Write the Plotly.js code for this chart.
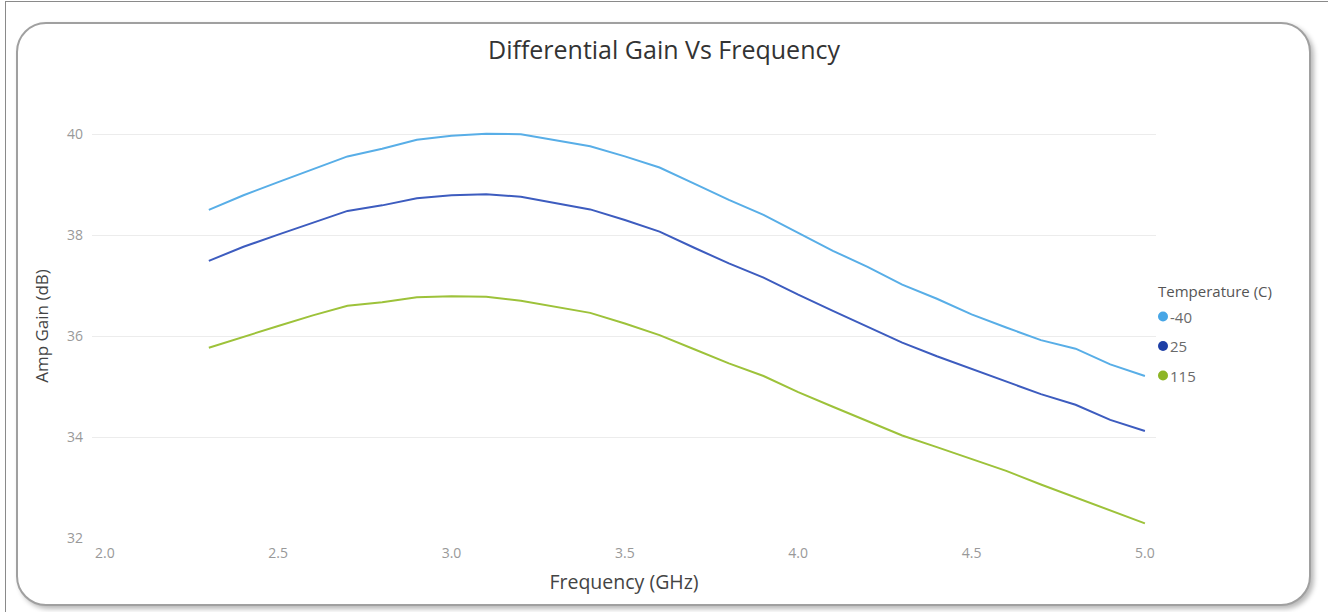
<!DOCTYPE html>
<html>
<head>
<meta charset="utf-8">
<script src="https://cdn.plot.ly/plotly-3.0.1.min.js"></script>
<style>
  html, body { margin: 0; padding: 0; background: #ffffff; }
  #frame { position: absolute; left: 5px; top: 1px; width: 1340px; height: 640px; border-left: 1px solid #8a8a8a; border-top: 1px solid #8a8a8a; }
  #card { position: absolute; left: 16px; top: 22px; width: 1291px; height: 580px; border: 2px solid #a0a0a0; border-radius: 30px; box-shadow: 3px 3px 5px rgba(0,0,0,0.28); background: #fff; }
  #chart { position: absolute; left: 0; top: 0; width: 1328px; height: 612px; }
</style>
</head>
<body>
<div id="frame"></div>
<div id="card"></div>
<div id="chart"></div>
<script>
// ---- data ----
const frequency = [2.3, 2.4, 2.5, 2.6, 2.7, 2.8, 2.9, 3.0, 3.1, 3.2, 3.3, 3.4, 3.5, 3.6,
                   3.7, 3.8, 3.9, 4.0, 4.1, 4.2, 4.3, 4.4, 4.5, 4.6, 4.7, 4.8, 4.9, 5.0];
const gainMinus40 = [38.50, 38.79, 39.05, 39.30, 39.56, 39.71, 39.89, 39.97, 40.01, 40.00, 39.88, 39.76, 39.56, 39.34,
                     39.02, 38.70, 38.40, 38.05, 37.69, 37.37, 37.02, 36.74, 36.43, 36.17, 35.92, 35.75, 35.44, 35.21];
const gain25 = [37.49, 37.77, 38.01, 38.25, 38.48, 38.59, 38.73, 38.79, 38.81, 38.76, 38.63, 38.51, 38.30, 38.07,
                37.75, 37.44, 37.16, 36.82, 36.50, 36.18, 35.87, 35.60, 35.35, 35.11, 34.85, 34.64, 34.34, 34.12];
const gain115 = [35.77, 35.99, 36.20, 36.41, 36.60, 36.67, 36.77, 36.79, 36.78, 36.70, 36.58, 36.46, 36.25, 36.02,
                 35.74, 35.46, 35.21, 34.89, 34.60, 34.31, 34.03, 33.80, 33.57, 33.33, 33.06, 32.80, 32.55, 32.29];
const seriesNames = ["-40", "25", "115"];
const xTickVals = [2.0, 2.5, 3.0, 3.5, 4.0, 4.5, 5.0];
const xTickText = ["2.0", "2.5", "3.0", "3.5", "4.0", "4.5", "5.0"];
const yTickVals = [32, 34, 36, 38, 40];
const legendTitle = "Temperature (C)";

// ---- styles ----
const lineColors = ["#58AEE7", "#3D5CBF", "#9DC23A"];
const markerColors = ["#47A6E6", "#1E3FA6", "#8DB526"];
const FONT = "'Open Sans', 'Noto Sans', sans-serif";
const seriesValues = [gainMinus40, gain25, gain115];

const traces = seriesValues.map((vals, i) => ({
  type: "scatter", mode: "lines", x: frequency, y: vals, name: seriesNames[i],
  line: { color: lineColors[i], width: 2 }, showlegend: false, cliponaxis: false,
  hovertemplate: "%{x} GHz<br>%{y} dB<extra>" + seriesNames[i] + "</extra>"
}));

// custom legend (matching the compact look of the reference)
const legX = 1156, legTitleY = 290.5, legItemY0 = 316.5, legStep = 29.5;
const annotations = [{
  xref: "paper", yref: "paper", x: (legX - 92) / 1064, y: 1 - (legTitleY - 114) / 424,
  xanchor: "left", yanchor: "middle", showarrow: false, text: legendTitle,
  font: { family: FONT, size: 15, color: "#555555" }
}];
const shapes = [];
seriesNames.forEach((n, i) => {
  const yc = legItemY0 + i * legStep;
  const ypaper = 1 - (yc - 114) / 424;
  annotations.push({
    xref: "paper", yref: "paper", x: (legX + 12 - 92) / 1064, y: ypaper,
    xanchor: "left", yanchor: "middle", showarrow: false, text: n,
    font: { family: FONT, size: 15, color: "#6a6a6a" }
  });
  shapes.push({
    type: "circle", xref: "paper", yref: "paper",
    xsizemode: "pixel", ysizemode: "pixel",
    xanchor: (legX + 7 - 92) / 1064, yanchor: ypaper,
    x0: -5, x1: 5, y0: -5, y1: 5,
    fillcolor: markerColors[i], line: { width: 0 }
  });
});

const layout = {
  width: 1328, height: 612,
  margin: { l: 92, r: 172, t: 114, b: 74 },
  paper_bgcolor: "rgba(0,0,0,0)", plot_bgcolor: "rgba(0,0,0,0)",
  font: { family: FONT, color: "#888888" },
  title: {
    text: "Differential Gain Vs Frequency",
    font: { family: FONT, size: 25, color: "#333333" },
    x: 0.5, xref: "container", xanchor: "center", y: 1 - 50 / 612, yref: "container", yanchor: "middle"
  },
  xaxis: {
    range: [1.963, 5.032], tickvals: xTickVals, ticktext: xTickText,
    showgrid: false, zeroline: false, showline: false, ticks: "",
    ticklabelstandoff: 5,
    tickfont: { family: FONT, size: 14, color: "#999999" },
    title: { text: "Frequency (GHz)", font: { family: FONT, size: 19.5, color: "#444444" }, standoff: 14 }
  },
  yaxis: {
    range: [32, 40.4], tickvals: yTickVals,
    showgrid: true, gridcolor: "#ececec", gridwidth: 1, zeroline: false, showline: false, ticks: "",
    ticklabelstandoff: 8,
    tickfont: { family: FONT, size: 14, color: "#999999" },
    title: { text: "Amp Gain (dB)", font: { family: FONT, size: 17, color: "#444444" }, standoff: 14 }
  },
  shapes: shapes,
  annotations: annotations,
  showlegend: false
};

Plotly.newPlot("chart", traces, layout, { displayModeBar: false, responsive: false });
</script>
</body>
</html>
